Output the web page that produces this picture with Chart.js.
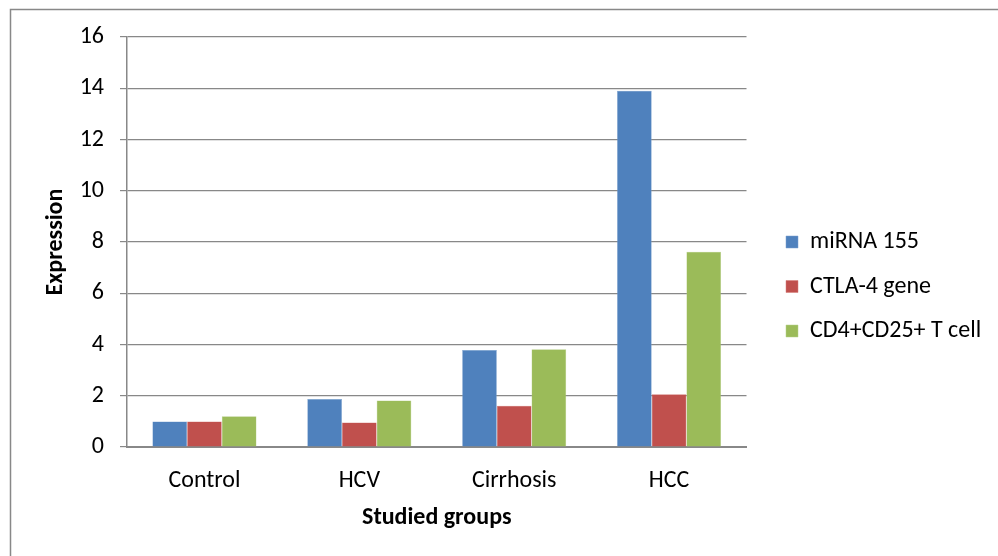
<!DOCTYPE html>
<html>
<head>
<meta charset="utf-8">
<script src="https://cdn.jsdelivr.net/npm/chart.js@4"></script>
<style>
html,body{margin:0;padding:0;background:#fff;}
#wrap{width:998px;height:556px;position:relative;}
</style>
</head>
<body>
<div id="wrap"><canvas id="c" width="998" height="556"></canvas></div>
<script>
const categories = ["Control", "HCV", "Cirrhosis", "HCC"];
const mirna155 = [1.0, 1.87, 3.79, 13.9];
const ctla4 = [1.0, 0.96, 1.61, 2.06];
const cd4cd25 = [1.2, 1.81, 3.81, 7.62];
const seriesNames = ["miRNA 155", "CTLA-4 gene", "CD4+CD25+ T cell"];
const yTicks = [0, 2, 4, 6, 8, 10, 12, 14, 16];

const FONT = "Carlito, Calibri, Lato, 'Open Sans', sans-serif";
const FS = 24;
Chart.defaults.font.family = FONT;
Chart.defaults.color = '#000';

const frame = {
  id: 'frame',
  beforeLayout(chart) {
    const lg = chart.legend;
    if (lg && !lg._patched) {
      const orig = lg.fit;
      lg.fit = function() { orig.call(this); this.width = 227.5; };
      lg._patched = true;
    }
  },
  beforeDraw(chart) {
    const ctx = chart.ctx;
    ctx.save();
    ctx.strokeStyle = '#888888';
    ctx.lineWidth = 1.5;
    ctx.beginPath();
    ctx.moveTo(10.5, 556);
    ctx.lineTo(10.5, 9.5);
    ctx.lineTo(998, 9.5);
    ctx.stroke();
    ctx.restore();
  }
};

new Chart(document.getElementById('c'), {
  type: 'bar',
  data: {
    labels: categories,
    datasets: [
      {label: seriesNames[0], data: mirna155, backgroundColor: '#4F81BD', borderColor: '#7A9FCE', borderWidth: 0.5},
      {label: seriesNames[1], data: ctla4, backgroundColor: '#C0504D', borderColor: '#D47C79', borderWidth: 0.5},
      {label: seriesNames[2], data: cd4cd25, backgroundColor: '#9BBB59', borderColor: '#B7D08A', borderWidth: 0.5}
    ]
  },
  options: {
    responsive: false,
    animation: false,
    devicePixelRatio: 1,
    layout: {padding: {left: 12, top: 37, right: 5, bottom: 20}},
    datasets: {bar: {categoryPercentage: 0.672, barPercentage: 1.0}},
    plugins: {
      legend: {
        position: 'right',
        align: 'center',
        labels: {boxWidth: 12, boxHeight: 12, padding: 20.5, font: {size: FS}, color: '#000'}
      },
      tooltip: {enabled: false}
    },
    scales: {
      x: {
        grid: {display: false},
        border: {display: true, color: '#888888', width: 2},
        ticks: {font: {size: FS}, color: '#000', padding: 12},
        title: {display: true, text: 'Studied groups', font: {size: FS, weight: 'bold'}, color: '#000', padding: {top: 4, bottom: 4}},
        afterFit(s) { s.height = 89; }
      },
      y: {
        min: 0, max: 16,
        afterBuildTicks(s) { s.ticks = yTicks.map(v => ({value: v})); },
        grid: {color: '#888888', lineWidth: 1.2, tickLength: 7, drawTicks: true},
        border: {display: true, color: '#888888', width: 1.5},
        ticks: {font: {size: FS}, color: '#000', padding: 16},
        title: {display: true, text: 'Expression', font: {size: FS, weight: 'bold'}, color: '#000', padding: {top: 30, bottom: 4}},
        afterFit(s) { s.width = 115; }
      },
      gap: {
        type: 'linear',
        position: 'right',
        display: true,
        grid: {display: false},
        border: {display: false},
        ticks: {display: false},
        afterFit(s) { s.width = 19; }
      }
    }
  },
  plugins: [frame]
});
</script>
</body>
</html>
